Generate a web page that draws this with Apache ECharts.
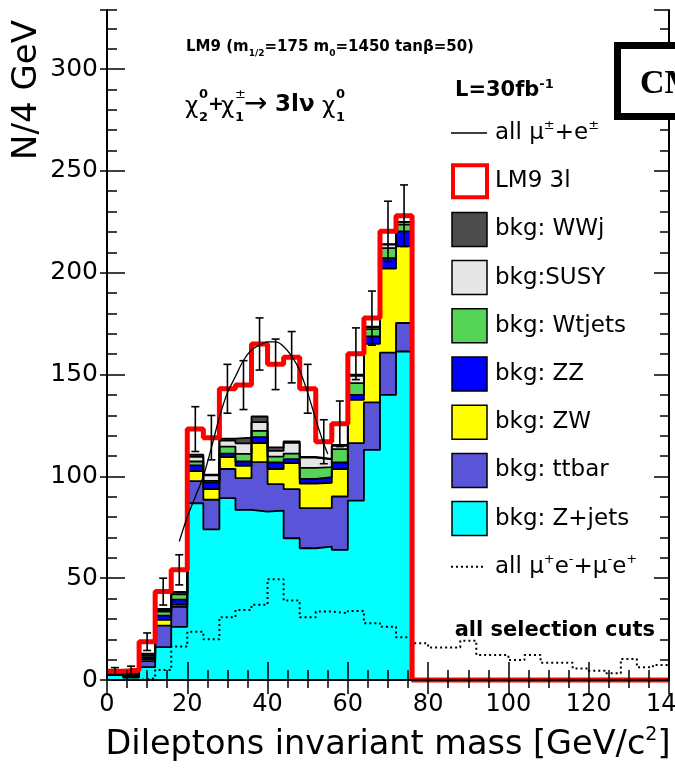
<!DOCTYPE html>
<html>
<head>
<meta charset="utf-8">
<title>Dileptons invariant mass</title>
<script src="https://cdn.jsdelivr.net/npm/echarts@6.0.0/dist/echarts.min.js"></script>
<style>
  html, body { margin: 0; padding: 0; background: #fff; }
  #chart { width: 675px; height: 776px; }
</style>
</head>
<body>
<div id="chart"></div>
<script>
// 4 GeV bins, 0..140 GeV/c^2
const edges = [0, 4, 8, 12, 16, 20, 24, 28, 32, 36, 40, 44, 48, 52, 56, 60, 64, 68, 72, 76,
  80, 84, 88, 92, 96, 100, 104, 108, 112, 116, 120, 124, 128, 132, 136, 140]

// stacked backgrounds, bins 0-76 (bottom to top)
const zjets  = [2.4, 1.2, 6.3, 16.1, 26.1, 86.8, 74.0, 89.3, 83.5, 82.7, 83.2, 69.6, 64.7, 65.5, 63.9, 88.1, 113.0, 140.0, 161.3]
const ttbar  = [0.6, 0.6, 3.0, 10.6, 9.8, 10.9, 14.5, 14.3, 15.6, 24.3, 13.0, 24.1, 19.7, 18.9, 26.2, 28.2, 23.3, 20.8, 14.0]
const zw     = [0.1, 0.2, 0.8, 2.8, 1.0, 4.9, 5.2, 5.8, 6.1, 9.3, 7.4, 12.8, 12.1, 12.4, 13.4, 21.3, 28.8, 41.2, 37.6]
const zz     = [0.1, 0.2, 0.9, 2.1, 2.6, 2.8, 3.3, 1.8, 2.1, 3.0, 3.2, 2.0, 2.2, 2.8, 3.3, 2.4, 3.6, 5.2, 7.4]
const wtjets = [0.1, 0.2, 0.8, 2.0, 2.5, 1.9, 0.8, 3.4, 3.7, 3.0, 2.9, 2.7, 5.5, 4.9, 6.6, 5.8, 3.6, 4.9, 3.3]
const susy   = [0.1, 0.3, 0.6, 0.7, 0.8, 2.3, 2.7, 3.0, 5.2, 4.3, 2.8, 5.3, 5.0, 3.8, 1.6, 3.6, 1.0, 1.7, 1.1]
const wwj    = [0.1, 0.6, 0.6, 0.6, 0.5, 1.0, 0.3, 0.9, 2.8, 2.8, 1.7, 0.7, 0.3, 0.3, 0.5, 0.5, 0.2, 0.2, 0.2]

// signal + background (red histogram) and its errors
const lm9Total = [4.3, 4.8, 18.8, 43.4, 54.1, 123.2, 119.0, 143.0, 144.8, 165.0, 155.0, 158.5, 143.0, 117.0, 125.8, 160.2, 177.7, 220.3, 228.0]
const lm9Err   = [1.8, 2.0, 4.3, 6.6, 7.4, 11.0, 10.9, 12.0, 12.0, 12.8, 12.4, 12.6, 12.0, 10.8, 11.2, 12.7, 13.3, 14.8, 15.1]

// all mu+e- + mu-e+ (dotted), bins 0-140
const oppSign = [0, 0, 0.8, 4.9, 16.4, 23.7, 20.0, 30.8, 34.4, 36.9, 49.5, 39.0, 30.8, 33.6, 32.8, 33.9, 27.9, 26.2,
  21.0, 18.0, 16.0, 16.0, 19.3, 12.3, 12.3, 9.8, 12.3, 8.5, 8.5, 5.7, 4.6, 3.3, 10.3, 6.2, 7.4]

// all mu+-e+- fit curve
const fitX = [18, 20, 22, 24, 26, 28, 30, 32, 34, 36, 38, 40, 42, 44, 46, 48, 50, 52, 54, 55]
const fitY = [68, 80, 90, 100, 114, 129, 141, 149, 157, 162, 164.5, 166, 166, 163.8, 159, 152, 141, 128, 116, 111]

const yTicks = [0, 50, 100, 150, 200, 250, 300]
const xTicks = [0, 20, 40, 60, 80, 100, 120, 140]

const bkgNames  = ['bkg: Z+jets', 'bkg: ttbar', 'bkg: ZW', 'bkg: ZZ', 'bkg: Wtjets', 'bkg:SUSY', 'bkg: WWj']
const bkgValues = [zjets, ttbar, zw, zz, wtjets, susy, wwj]
const bkgColors = ['#00ffff', '#5a55d8', '#ffff00', '#0000ff', '#55d455', '#e6e6e6', '#4c4c4c']

const FONT = 'DejaVu Sans'
const yMax = 329

function histPoints(values) {
  const pts = values.map((v, i) => [edges[i], v])
  pts.push([edges[values.length], 0])
  return pts
}

// THStack style: cumulative sums, drawn from the top layer down
const cumul = []
let running = zjets.map(() => 0)
bkgValues.forEach((vals) => {
  running = running.map((r, i) => r + vals[i])
  cumul.push(running)
})

const chart = echarts.init(document.getElementById('chart'), null, { renderer: 'canvas' })

const series = []
for (let k = cumul.length - 1; k >= 0; k--) {
  series.push({
    type: 'line', name: bkgNames[k], step: 'end', symbol: 'none', silent: true,
    data: histPoints(cumul[k]), z: 2,
    lineStyle: { color: '#000', width: 1.8 },
    areaStyle: { color: bkgColors[k], opacity: 1 }
  })
}
series.push({
  type: 'line', name: 'dotted', step: 'end', symbol: 'none', silent: true, z: 4,
  data: histPoints(oppSign),
  lineStyle: { color: '#000', width: 2, type: [2, 3] }
})
series.push({
  type: 'line', name: 'LM9 3l', step: 'end', symbol: 'none', silent: true, z: 5, clip: false,
  data: histPoints(lm9Total).concat([[140, 0]]),
  lineStyle: { color: '#ff0000', width: 5 }
})
series.push({
  type: 'custom', z: 6, silent: true,
  data: lm9Total.map((v, i) => [(edges[i] + edges[i + 1]) / 2, v, lm9Err[i]]),
  renderItem: (params, api) => {
    const x = api.value(0)
    const v = api.value(1)
    const e = api.value(2)
    const hi = api.coord([x, v + e])
    const lo = api.coord([x, v - e])
    const st = { stroke: '#000', lineWidth: 1.6 }
    return {
      type: 'group',
      children: [
        { type: 'line', shape: { x1: hi[0], y1: hi[1], x2: lo[0], y2: lo[1] }, style: st },
        { type: 'line', shape: { x1: hi[0] - 4, y1: hi[1], x2: hi[0] + 4, y2: hi[1] }, style: st },
        { type: 'line', shape: { x1: lo[0] - 4, y1: lo[1], x2: lo[0] + 4, y2: lo[1] }, style: st }
      ]
    }
  }
})
series.push({
  type: 'line', name: 'fit', smooth: 0.3, symbol: 'none', silent: true, z: 7,
  data: fitX.map((x, i) => [x, fitY[i]]),
  lineStyle: { color: '#000', width: 1.3 }
})

// legend, drawn by hand (ROOT style)
const legendItems = [
  { text: 'all μ{sup|±}+e{sup|±}', icon: 'line' },
  { text: 'LM9 3l', icon: 'box', fill: '#ffffff', stroke: '#ff0000', lw: 4 }
]
for (let k = bkgNames.length - 1; k >= 0; k--) {
  legendItems.push({ text: bkgNames[k], icon: 'box', fill: bkgColors[k], stroke: '#000', lw: 1.5 })
}
legendItems.push({ text: 'all μ{sup|+}e{sup|-}+μ{sup|-}e{sup|+}', icon: 'dots' })

const supStyle = { fontSize: 13, fontFamily: FONT, verticalAlign: 'top', lineHeight: 13 }
const graphics = []
legendItems.forEach((it, i) => {
  const yc = 133 + 48.2 * i
  if (it.icon === 'line') {
    graphics.push({ type: 'line', z: 50, shape: { x1: 451, y1: yc, x2: 487, y2: yc }, style: { stroke: '#000', lineWidth: 1.3 } })
  } else if (it.icon === 'dots') {
    graphics.push({ type: 'line', z: 50, shape: { x1: 451, y1: yc, x2: 484, y2: yc }, style: { stroke: '#000', lineWidth: 2, lineDash: [2, 3] } })
  } else if (it.lw > 2) {
    graphics.push({ type: 'rect', z: 50, shape: { x: 453, y: yc - 16, width: 34, height: 32 }, style: { fill: it.fill, stroke: it.stroke, lineWidth: it.lw } })
  } else {
    graphics.push({ type: 'rect', z: 50, shape: { x: 452, y: yc - 17, width: 35, height: 34 }, style: { fill: it.fill, stroke: it.stroke, lineWidth: it.lw } })
  }
  graphics.push({
    type: 'text', z: 50, x: 495, y: yc,
    style: {
      text: it.text, fontSize: 23, fontFamily: FONT, fill: '#000', lineHeight: 28,
      align: 'left', verticalAlign: 'middle', rich: { sup: supStyle }
    }
  })
})

graphics.push({
  type: 'text', z: 50, x: 455, y: 91,
  style: {
    text: 'L=30fb{sup|-1}', fontSize: 21, fontWeight: 'bold', fontFamily: FONT, fill: '#000', lineHeight: 26,
    align: 'left', verticalAlign: 'middle',
    rich: { sup: { fontSize: 13, fontWeight: 'bold', fontFamily: FONT, verticalAlign: 'top', lineHeight: 13 } }
  }
})
graphics.push({
  type: 'text', z: 50, x: 186, y: 47,
  style: {
    text: 'LM9 (m{sub|1/2}=175 m{sub|0}=1450 tanβ=50)', fontSize: 15, fontWeight: 'bold', fontFamily: FONT,
    fill: '#000', lineHeight: 22, align: 'left', verticalAlign: 'middle',
    rich: { sub: { fontSize: 9, fontWeight: 'bold', fontFamily: FONT, verticalAlign: 'bottom', lineHeight: 9 } }
  }
})

// chi formula pieces
const formula = [
  ['χ', 185, 107, 23, 'normal'], ['0', 199, 95, 13, 'bold'], ['2', 199, 118, 13, 'bold'],
  ['+', 208, 105, 19, 'bold'], ['χ', 221, 107, 23, 'normal'], ['±', 235, 95, 13, 'normal'],
  ['1', 235, 118, 13, 'bold'], ['→', 244, 105, 28, 'normal'], ['3lν', 275, 105, 23, 'bold'],
  ['χ', 322, 107, 23, 'normal'], ['0', 336, 95, 13, 'bold'], ['1', 336, 118, 13, 'bold']
]
formula.forEach((p) => {
  graphics.push({
    type: 'text', z: 50, x: p[1], y: p[2],
    style: { text: p[0], fontSize: p[3], fontWeight: p[4], fontFamily: FONT, fill: '#000', align: 'left', verticalAlign: 'middle' }
  })
})

graphics.push({
  type: 'text', z: 50, x: 655, y: 631,
  style: { text: 'all selection cuts', fontSize: 21, fontWeight: 'bold', fontFamily: FONT, fill: '#000', align: 'right', verticalAlign: 'middle' }
})
graphics.push({
  type: 'text', z: 50, x: 27, y: 90, rotation: Math.PI / 2,
  style: { text: 'N/4 GeV', fontSize: 34, fontFamily: FONT, fill: '#000', align: 'center', verticalAlign: 'middle' }
})
graphics.push({
  type: 'rect', z: 100, shape: { x: 617.5, y: 45.5, width: 90, height: 71 },
  style: { fill: '#fff', stroke: '#000', lineWidth: 7 }
})
graphics.push({
  type: 'text', z: 101, x: 640, y: 84,
  style: { text: 'CMS', fontSize: 34, fontWeight: 'bold', fontFamily: 'Liberation Serif', fill: '#000', align: 'left', verticalAlign: 'middle' }
})

const black = { color: '#000', width: 2 }
const tickLine = { color: '#000', width: 1.5 }
const xBase = { type: 'value', min: xTicks[0], max: xTicks[xTicks.length - 1], interval: xTicks[1] - xTicks[0], splitLine: { show: false }, z: 10 }
const yBase = { type: 'value', min: yTicks[0], max: yMax, splitLine: { show: false }, z: 10 }

chart.setOption({
  animation: false,
  backgroundColor: '#fff',
  textStyle: { fontFamily: FONT },
  grid: { left: 107, top: 10, width: 562, height: 670, containLabel: false, outerBoundsMode: 'none' },
  xAxis: [
    Object.assign({}, xBase, {
      position: 'bottom',
      axisLine: { show: true, lineStyle: black },
      axisTick: { inside: true, length: 18, lineStyle: tickLine },
      minorTick: { show: true, splitNumber: 4, length: 10, lineStyle: tickLine },
      axisLabel: { fontSize: 24, color: '#000', margin: 13, fontFamily: FONT },
      name: 'Dileptons invariant mass [GeV/c{sup|2}]',
      nameLocation: 'middle',
      nameGap: 46,
      nameTextStyle: {
        fontSize: 33.5, color: '#000', fontFamily: FONT, lineHeight: 38,
        rich: { sup: { fontSize: 19, fontFamily: FONT, color: '#000', verticalAlign: 'top', lineHeight: 19 } }
      }
    }),
    Object.assign({}, xBase, {
      position: 'top',
      axisLine: { show: true, lineStyle: black },
      axisTick: { inside: true, length: 14, lineStyle: tickLine },
      minorTick: { show: true, splitNumber: 4, length: 8, lineStyle: tickLine },
      axisLabel: { show: false }
    })
  ],
  yAxis: [
    Object.assign({}, yBase, {
      position: 'left', interval: yTicks[1] - yTicks[0],
      axisLine: { show: true, lineStyle: black },
      axisTick: { inside: true, length: 18, lineStyle: tickLine },
      axisLabel: { fontSize: 25, color: '#000', margin: 9, fontFamily: FONT, showMaxLabel: false }
    }),
    Object.assign({}, yBase, {
      position: 'left', interval: 10,
      axisLine: { show: false },
      axisTick: { inside: true, length: 10, lineStyle: tickLine },
      axisLabel: { show: false }
    }),
    Object.assign({}, yBase, {
      position: 'left', interval: yTicks[1] - yTicks[0],
      axisLine: { show: false },
      axisTick: { inside: false, length: 7, lineStyle: tickLine },
      axisLabel: { show: false }
    }),
    Object.assign({}, yBase, {
      position: 'right', interval: yTicks[1] - yTicks[0],
      axisLine: { show: true, lineStyle: black },
      axisTick: { inside: true, length: 15, lineStyle: tickLine },
      axisLabel: { show: false }
    }),
    Object.assign({}, yBase, {
      position: 'right', interval: 10,
      axisLine: { show: false },
      axisTick: { inside: true, length: 9, lineStyle: tickLine },
      axisLabel: { show: false }
    })
  ],
  series: series,
  graphic: { elements: graphics }
})
</script>
</body>
</html>
